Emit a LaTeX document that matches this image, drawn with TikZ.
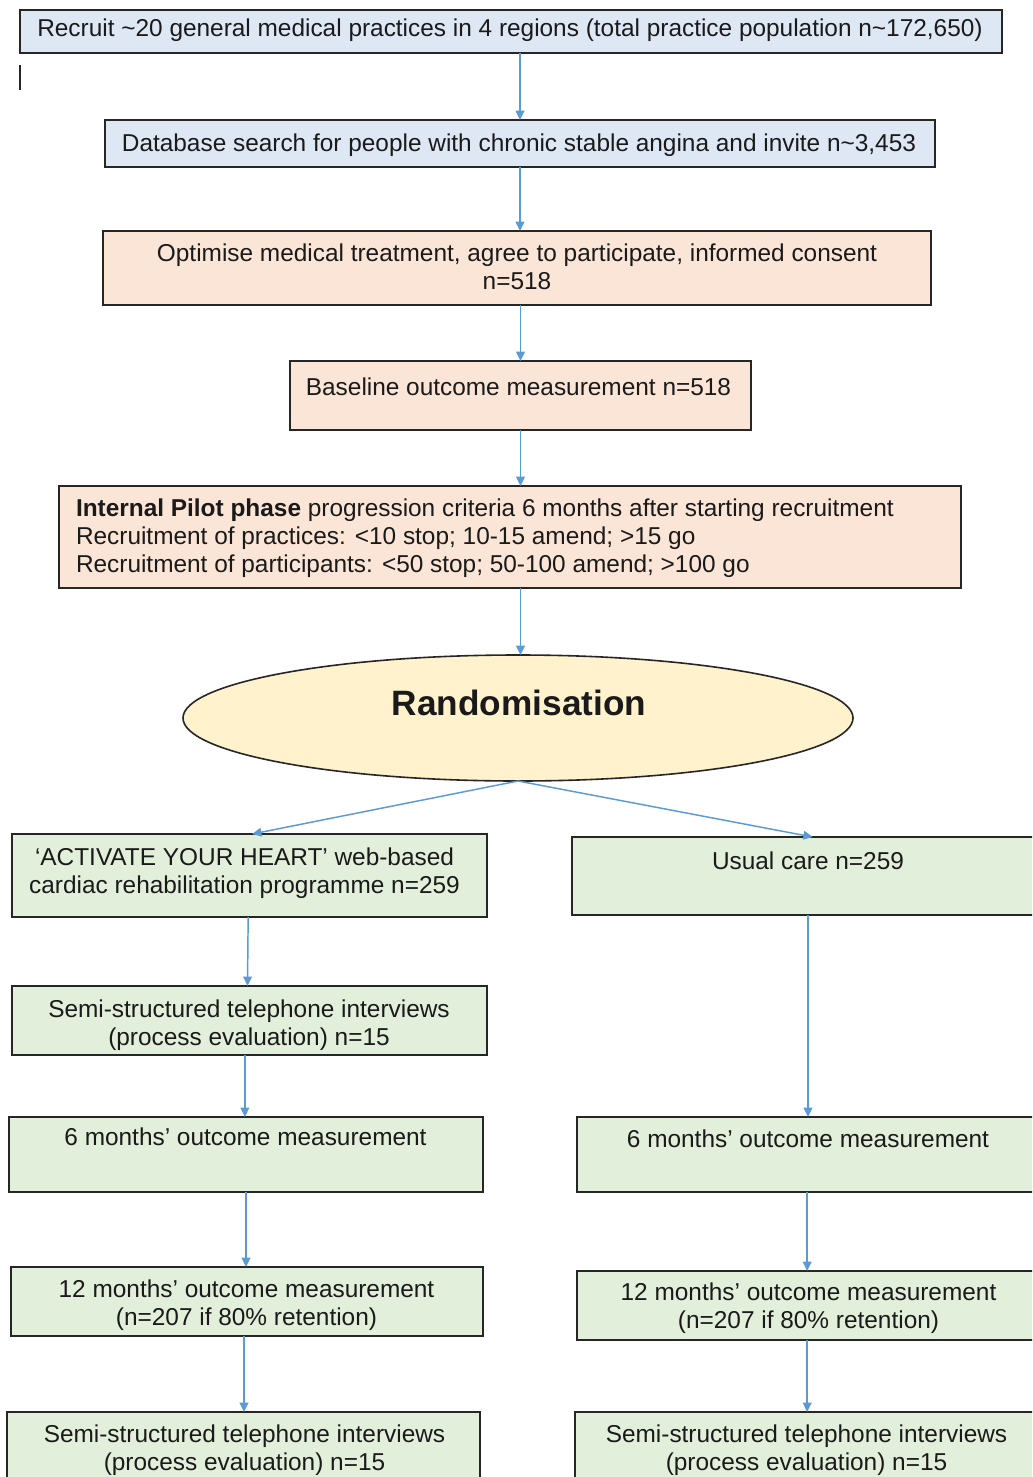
\documentclass[tikz,border=0pt]{standalone}
\usepackage{fontspec}
\setmainfont{Liberation Sans}
\usetikzlibrary{shapes.geometric,arrows.meta,calc}
\definecolor{bluefill}{HTML}{DEE8F5}
\definecolor{peachfill}{HTML}{FBE5D6}
\definecolor{greenfill}{HTML}{E2EFDA}
\definecolor{ellfill}{HTML}{FFF2CC}
\definecolor{arrcol}{HTML}{5B9BD5}
\definecolor{boxline}{HTML}{262626}
\definecolor{textcol}{HTML}{1A1A1A}
\newcommand\mybox[6]{\node[box,fill=#6,minimum width={(#4-#2)*0.75pt},minimum height={(#5-#3)*0.75pt}] (#1) at ({(#2+#4)/2},{(#3+#5)/2}) {};}
\begin{document}
\begin{tikzpicture}[x=0.75pt,y=-0.75pt,
  box/.style={draw=boxline,line width=1.2pt,rectangle,inner sep=0pt,outer sep=0pt},
  txt/.style={inner sep=0pt,outer sep=0pt,text=textcol,font=\fontsize{18.3}{21}\selectfont,align=center,anchor=base},
  arr/.style={draw=arrcol,line width=1.1pt,-{Triangle[length=7pt,width=6.5pt]}}
]
\fill[white] (0,0) rectangle (1032,1477);
\clip (0,0) rectangle (1032,1477);

% top chain (multi-line text nodes are placed by the baseline of their last line)
\mybox{R}{20}{10}{1002}{53}{bluefill}
\node[txt] (Rt) at (510,37) {Recruit \textasciitilde20 general medical practices in 4 regions (total practice population n\textasciitilde172,650)};
\draw[boxline,line width=1.2pt] (20,65) coordinate (cur1) -- (20,90) coordinate (cur2);

\mybox{DB}{105}{120}{935}{167}{bluefill}
\node[txt] (DBt) at (519,151) {Database search for people with chronic stable angina and invite n\textasciitilde3,453};

\mybox{OP}{103}{231}{931}{305}{peachfill}
\node[txt] (OPt) at (517,289) {Optimise medical treatment, agree to participate, informed consent\\n=518};

\mybox{BL}{290}{361}{751}{430}{peachfill}
\node[txt] (BLt) at (518.5,395) {Baseline outcome measurement n=518};

\mybox{IP}{59}{486}{961}{588}{peachfill}
\node[txt,align=left,anchor=base west] (IPt) at (76,572) {\textbf{Internal Pilot phase} progression criteria 6 months after starting recruitment\\Recruitment of practices: <10 stop; 10-15 amend; >15 go\\Recruitment of participants: <50 stop; 50-100 amend; >100 go};

\node[ellipse,draw=boxline,line width=1.2pt,fill=ellfill,minimum width={670*0.75pt},minimum height={126*0.75pt},inner sep=0pt,outer sep=0pt] (RA) at (518,718) {};
\node[txt,font=\fontsize{26.4}{30}\selectfont\bfseries] (RAt) at (519,715) {Randomisation};

% left arm
\mybox{A}{12}{834}{487}{917}{greenfill}
\node[txt] (At) at (244.5,893) {‘ACTIVATE YOUR HEART’ web-based\\cardiac rehabilitation programme n=259};
\mybox{L2}{12}{986}{487}{1055}{greenfill}
\node[txt] (L2t) at (249,1045) {Semi-structured telephone interviews\\(process evaluation) n=15};
\mybox{L3}{9}{1117}{483}{1192}{greenfill}
\node[txt] (L3t) at (245.5,1145) {6 months’ outcome measurement};
\mybox{L4}{11}{1267}{483}{1336}{greenfill}
\node[txt] (L4t) at (246.5,1325) {12 months’ outcome measurement\\(n=207 if 80\% retention)};
\mybox{L5}{7}{1412}{480}{1495}{greenfill}
\node[txt] (L5t) at (244.5,1470) {Semi-structured telephone interviews\\(process evaluation) n=15};

% right arm
\mybox{U}{572}{837}{1044}{915}{greenfill}
\node[txt] (Ut) at (808,869) {Usual care n=259};
\mybox{R3}{577}{1117}{1040}{1192}{greenfill}
\node[txt] (R3t) at (808,1147) {6 months’ outcome measurement};
\mybox{R4}{577}{1271}{1040}{1340}{greenfill}
\node[txt] (R4t) at (808.5,1328) {12 months’ outcome measurement\\(n=207 if 80\% retention)};
\mybox{R5}{575}{1412}{1040}{1495}{greenfill}
\node[txt] (R5t) at (806.5,1470) {Semi-structured telephone interviews\\(process evaluation) n=15};

% connectors
\draw[arr] (R.south -| DB.north) -- (DB.north);
\draw[arr] (DB.south) -- (DB.south |- OP.north);
\draw[arr] (BL.north |- OP.south) -- (BL.north);
\draw[arr] (BL.south) -- (BL.south |- IP.north);
\draw[arr] (IP.south -| BL.south) -- (RA.north -| BL.south);
\draw[arr] (RA.south) -- ([xshift=2pt]A.north);
\draw[arr] (RA.south) -- ([xshift=3.5pt]U.north);
\draw[arr] ([xshift=-1pt]A.south) -- ([xshift=-1.5pt]L2.north);
\draw[arr] ([xshift=-3.5pt]L2.south) -- ([xshift=-3.5pt]L2.south |- L3.north);
\draw[arr] (L3.south -| L3.north) -- (L4.north -| L3.north);
\draw[arr] ([xshift=-1.5pt]L3.south |- L4.south) -- ([xshift=-1.5pt]L3.south |- L5.north);
\draw[arr] (U.south) -- (U.south |- R3.north);
\draw[arr] ([xshift=-1pt]R3.south) -- ([xshift=-1pt]R3.south |- R4.north);
\draw[arr] ([xshift=-1pt]R4.south) -- ([xshift=-1pt]R4.south |- R5.north);
\end{tikzpicture}
\end{document}
